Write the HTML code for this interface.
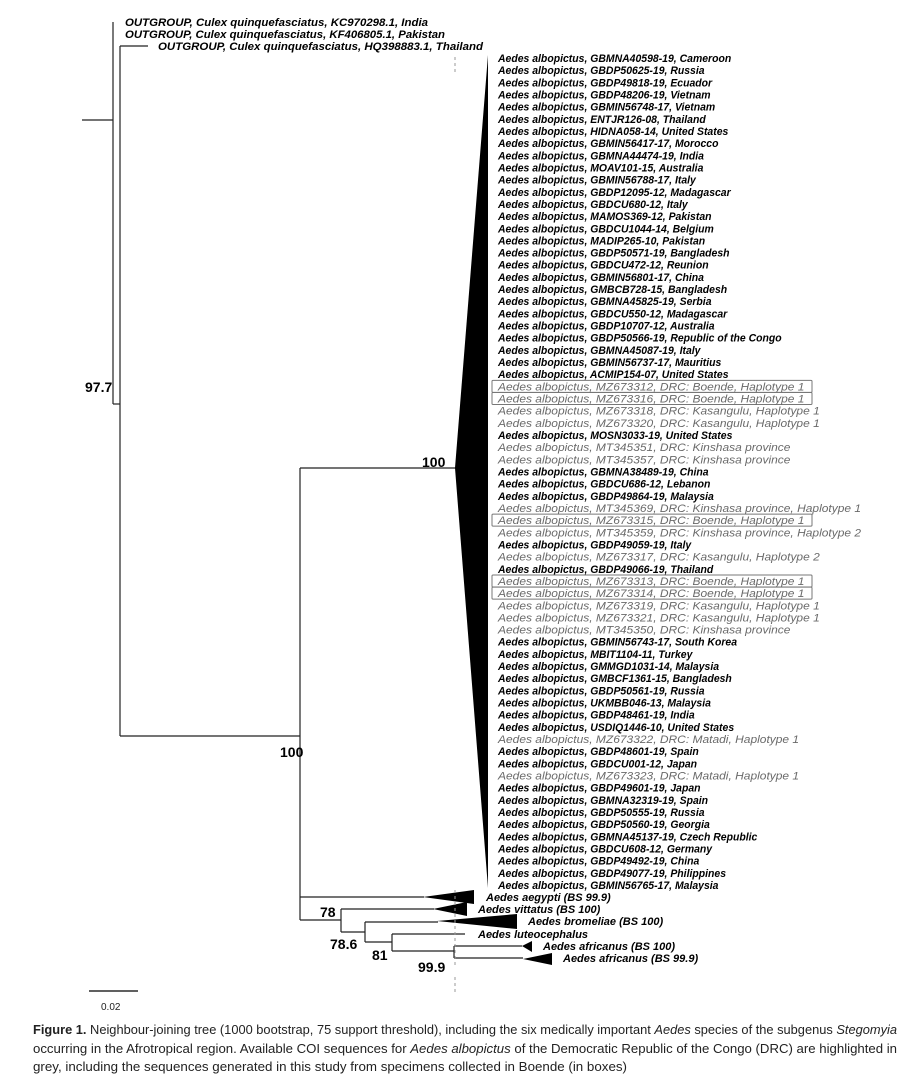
<!DOCTYPE html>
<html><head><meta charset="utf-8"><style>
html,body{margin:0;padding:0;background:#fff;}
svg{display:block;}
.lab{font-family:"Liberation Sans",Arial,sans-serif;font-size:11px;font-style:italic;font-weight:bold;fill:#000;}
.grey{font-weight:normal;fill:#6a6a6a;}
.bs{font-family:"Liberation Sans",Arial,sans-serif;font-size:14px;font-weight:bold;fill:#000;}
.cap{font-family:"Liberation Sans Narrow","Liberation Sans",sans-serif;font-size:12.5px;fill:#222;}
</style></head><body>
<svg id="fig" width="919" height="1084" viewBox="0 0 919 1084" xmlns="http://www.w3.org/2000/svg">
<g stroke="#222" stroke-width="1.2" fill="none">
  <line x1="82" y1="120" x2="113" y2="120"/>
  <line x1="113" y1="22" x2="113" y2="404"/>
  <line x1="113" y1="404" x2="120" y2="404"/>
  <line x1="120" y1="46" x2="120" y2="736"/>
  <line x1="120" y1="46" x2="148" y2="46"/>
  <line x1="120" y1="736" x2="300" y2="736"/>
  <line x1="300" y1="468" x2="300" y2="920"/>
  <line x1="300" y1="468" x2="456" y2="468"/>
  <line x1="300" y1="897" x2="424" y2="897"/>
  <line x1="300" y1="920" x2="341" y2="920"/>
  <line x1="341" y1="909" x2="341" y2="932"/>
  <line x1="341" y1="909" x2="434" y2="909"/>
  <line x1="341" y1="932" x2="365" y2="932"/>
  <line x1="365" y1="922" x2="365" y2="942"/>
  <line x1="365" y1="922" x2="438" y2="922"/>
  <line x1="365" y1="942" x2="392" y2="942"/>
  <line x1="392" y1="934" x2="392" y2="951"/>
  <line x1="392" y1="934" x2="465" y2="934"/>
  <line x1="392" y1="951" x2="454" y2="951"/>
  <line x1="454" y1="946" x2="454" y2="958"/>
  <line x1="454" y1="946" x2="522" y2="946"/>
  <line x1="454" y1="958" x2="523" y2="958"/>
</g>
<g fill="#000">
  <polygon points="488,55 455,468 488,888"/>
  <polygon points="423,897 474,890 474,904"/>
  <polygon points="433,909 467,902 467,916"/>
  <polygon points="437,921 517,914 517,929"/>
  <polygon points="522,946 532,941 532,952"/>
  <polygon points="523,959 552,953 552,965"/>
</g>
<g stroke="#999" stroke-width="1" stroke-dasharray="3,3">
  <line x1="455" y1="57" x2="455" y2="72"/>
  <line x1="455" y1="890" x2="455" y2="965"/>
  <line x1="455" y1="977" x2="455" y2="995"/>
</g>
<g>
  <text class="lab" x="125" y="26" textLength="303" lengthAdjust="spacingAndGlyphs">OUTGROUP, Culex quinquefasciatus, KC970298.1, India</text>
  <text class="lab" x="125" y="38" textLength="320" lengthAdjust="spacingAndGlyphs">OUTGROUP, Culex quinquefasciatus, KF406805.1, Pakistan</text>
  <text class="lab" x="158" y="50" textLength="325" lengthAdjust="spacingAndGlyphs">OUTGROUP, Culex quinquefasciatus, HQ398883.1, Thailand</text>
</g>
<g>
  <text class="bs" x="85" y="392">97.7</text>
  <text class="bs" x="422" y="467">100</text>
  <text class="bs" x="280" y="757">100</text>
  <text class="bs" x="320" y="917">78</text>
  <text class="bs" x="330" y="949">78.6</text>
  <text class="bs" x="372" y="960">81</text>
  <text class="bs" x="418" y="972">99.9</text>
</g>
<g>
  <text class="lab" x="486" y="901">Aedes aegypti (BS 99.9)</text>
  <text class="lab" x="478" y="913">Aedes vittatus (BS 100)</text>
  <text class="lab" x="528" y="925">Aedes bromeliae (BS 100)</text>
  <text class="lab" x="478" y="938">Aedes luteocephalus</text>
  <text class="lab" x="543" y="950">Aedes africanus (BS 100)</text>
  <text class="lab" x="563" y="962">Aedes africanus (BS 99.9)</text>
</g>
<g id="albo"></g>
<g>
  <line x1="89" y1="991" x2="138" y2="991" stroke="#000" stroke-width="1.2"/>
  <text x="101" y="1010" style="font-family:'Liberation Sans',sans-serif;font-size:10px;fill:#222;">0.02</text>
</g>
<g>
  <text class="cap" x="33" y="1034" textLength="864" lengthAdjust="spacingAndGlyphs"><tspan font-weight="bold">Figure 1.</tspan> Neighbour-joining tree (1000 bootstrap, 75 support threshold), including the six medically important <tspan font-style="italic">Aedes</tspan> species of the subgenus <tspan font-style="italic">Stegomyia</tspan></text>
  <text class="cap" x="33" y="1053" textLength="864" lengthAdjust="spacingAndGlyphs">occurring in the Afrotropical region. Available COI sequences for <tspan font-style="italic">Aedes albopictus</tspan> of the Democratic Republic of the Congo (DRC) are highlighted in</text>
  <text class="cap" x="33" y="1071" textLength="594" lengthAdjust="spacingAndGlyphs">grey, including the sequences generated in this study from specimens collected in Boende (in boxes)</text>
</g>
</svg>
<script>
const accessions = ["GBMNA40598-19, Cameroon","GBDP50625-19, Russia","GBDP49818-19, Ecuador","GBDP48206-19, Vietnam","GBMIN56748-17, Vietnam","ENTJR126-08, Thailand","HIDNA058-14, United States","GBMIN56417-17, Morocco","GBMNA44474-19, India","MOAV101-15, Australia","GBMIN56788-17, Italy","GBDP12095-12, Madagascar","GBDCU680-12, Italy","MAMOS369-12, Pakistan","GBDCU1044-14, Belgium","MADIP265-10, Pakistan","GBDP50571-19, Bangladesh","GBDCU472-12, Reunion","GBMIN56801-17, China","GMBCB728-15, Bangladesh","GBMNA45825-19, Serbia","GBDCU550-12, Madagascar","GBDP10707-12, Australia","GBDP50566-19, Republic of the Congo","GBMNA45087-19, Italy","GBMIN56737-17, Mauritius","ACMIP154-07, United States","MZ673312, DRC: Boende, Haplotype 1","MZ673316, DRC: Boende, Haplotype 1","MZ673318, DRC: Kasangulu, Haplotype 1","MZ673320, DRC: Kasangulu, Haplotype 1","MOSN3033-19, United States","MT345351, DRC: Kinshasa province","MT345357, DRC: Kinshasa province","GBMNA38489-19, China","GBDCU686-12, Lebanon","GBDP49864-19, Malaysia","MT345369, DRC: Kinshasa province, Haplotype 1","MZ673315, DRC: Boende, Haplotype 1","MT345359, DRC: Kinshasa province, Haplotype 2","GBDP49059-19, Italy","MZ673317, DRC: Kasangulu, Haplotype 2","GBDP49066-19, Thailand","MZ673313, DRC: Boende, Haplotype 1","MZ673314, DRC: Boende, Haplotype 1","MZ673319, DRC: Kasangulu, Haplotype 1","MZ673321, DRC: Kasangulu, Haplotype 1","MT345350, DRC: Kinshasa province","GBMIN56743-17, South Korea","MBIT1104-11, Turkey","GMMGD1031-14, Malaysia","GMBCF1361-15, Bangladesh","GBDP50561-19, Russia","UKMBB046-13, Malaysia","GBDP48461-19, India","USDIQ1446-10, United States","MZ673322, DRC: Matadi, Haplotype 1","GBDP48601-19, Spain","GBDCU001-12, Japan","MZ673323, DRC: Matadi, Haplotype 1","GBDP49601-19, Japan","GBMNA32319-19, Spain","GBDP50555-19, Russia","GBDP50560-19, Georgia","GBMNA45137-19, Czech Republic","GBDCU608-12, Germany","GBDP49492-19, China","GBDP49077-19, Philippines","GBMIN56765-17, Malaysia"];
const boxed = ["MZ673312","MZ673316","MZ673315","MZ673313","MZ673314"];
const NS = "http://www.w3.org/2000/svg";
const g = document.getElementById('albo');
const y0 = 58, dy = (885 - 58) / (accessions.length - 1);
accessions.forEach((a, i) => {
  const y = y0 + i * dy;
  const isDRC = a.indexOf('DRC') >= 0;
  const sx = isDRC ? 1.09 : 0.95;
  const id = a.split(',')[0];
  if (boxed.indexOf(id) >= 0) {
    const r = document.createElementNS(NS, 'rect');
    r.setAttribute('x', 492); r.setAttribute('y', y - 6);
    r.setAttribute('width', 320); r.setAttribute('height', 12);
    r.setAttribute('fill', 'none'); r.setAttribute('stroke', '#777'); r.setAttribute('stroke-width', '1');
    r.setAttribute('rx', '1');
    
    
    g.appendChild(r);
  }
  const t = document.createElementNS(NS, 'text');
  t.setAttribute('class', isDRC ? 'lab grey' : 'lab');
  t.setAttribute('x', 498 / sx);
  t.setAttribute('y', y + 4);
  t.setAttribute('transform', 'scale(' + sx + ',1)');
  t.textContent = 'Aedes albopictus, ' + a;
  
  
  g.appendChild(t);
});
</script>
</body></html>
